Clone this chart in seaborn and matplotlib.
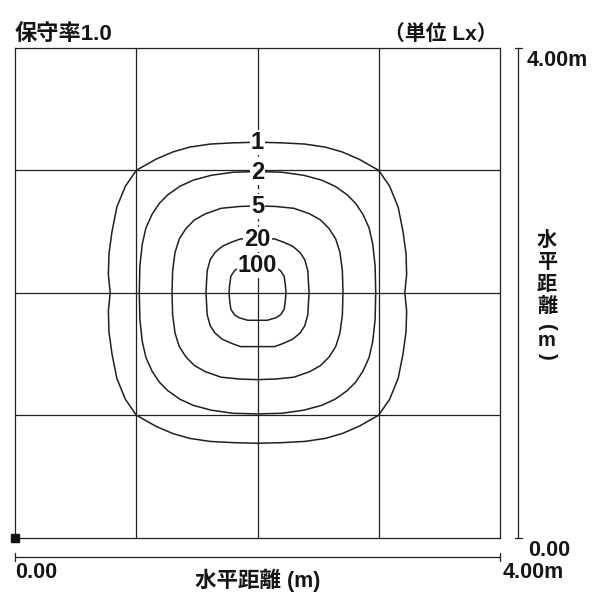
import numpy as np
import pandas as pd
import matplotlib
matplotlib.use('Agg')
import matplotlib.pyplot as plt
import seaborn as sns

# 照度レベル (Lx)
levels = [1, 2, 5, 20, 100]

# 等照度曲線 1/4 象限 (器具直下からの距離 m、上端 -> 側端)
lux1_x = [0, 0.20, 0.39, 0.56, 0.70, 0.84, 1.00, 1.09, 1.16, 1.20, 1.225, 1.23, 1.215]
lux1_y = [1.23, 1.225, 1.215, 1.19, 1.15, 1.09, 1.00, 0.87, 0.70, 0.50, 0.32, 0.15, 0]
lux2_x = [0, 0.20, 0.38, 0.53, 0.64, 0.74, 0.81, 0.87, 0.92, 0.95, 0.97, 0.975]
lux2_y = [0.99, 0.985, 0.96, 0.92, 0.87, 0.80, 0.73, 0.64, 0.53, 0.40, 0.22, 0]
lux5_x = [0, 0.15, 0.30, 0.43, 0.52, 0.59, 0.645, 0.68, 0.70, 0.705]
lux5_y = [0.71, 0.705, 0.69, 0.645, 0.595, 0.525, 0.44, 0.33, 0.18, 0]
lux20_x = [0, 0.14, 0.21, 0.29, 0.35, 0.39, 0.415, 0.425]
lux20_y = [0.44, 0.44, 0.415, 0.38, 0.33, 0.27, 0.18, 0]
lux100_x = [0, 0.08, 0.15, 0.19, 0.22, 0.23, 0.235]
lux100_y = [0.225, 0.225, 0.205, 0.18, 0.135, 0.06, 0]

# 器具位置と範囲
center_x, center_y = 2.0, 2.0
area = 4.0

line_color = '#231f20'
tc = '#151515'

# 4 象限に展開して閉曲線にする
quads = {1: (lux1_x, lux1_y), 2: (lux2_x, lux2_y), 5: (lux5_x, lux5_y),
         20: (lux20_x, lux20_y), 100: (lux100_x, lux100_y)}
rows = []
for lv in levels:
    qx, qy = np.array(quads[lv][0]), np.array(quads[lv][1])
    xs = np.concatenate([qx, qx[::-1][1:], -qx[1:], -qx[::-1][1:]])
    ys = np.concatenate([qy, -qy[::-1][1:], -qy[1:], qy[::-1][1:]])
    for i, (x, y) in enumerate(zip(xs, ys)):
        rows.append({'level': lv, 'order': i, 'x': center_x + x, 'y': center_y + y})
df = pd.DataFrame(rows)

sns.set_style('white')
plt.rcParams['font.family'] = ['Liberation Sans', 'Noto Sans CJK JP', 'DejaVu Sans']

fig = plt.figure(figsize=(6, 6), dpi=100)
ax = fig.add_axes([15 / 600, 1 - 537.5 / 600, 485 / 600, 489.5 / 600])

# グリッド
for g in [1, 2, 3]:
    ax.axhline(g, color=line_color, lw=0.9, zorder=1)
for g in [1, 3]:
    ax.axvline(g, color=line_color, lw=0.9, zorder=1)
# 中心線 (ラベル間は破線)
ax.plot([2, 2], [0, 2.12], color=line_color, lw=0.9, zorder=1)
ax.plot([2, 2], [3.27, 4], color=line_color, lw=0.9, zorder=1)
ax.plot([2, 2], [2.12, 3.27], color=line_color, lw=0.9, ls=(0, (3.5, 3)), zorder=1)

sns.lineplot(data=df, x='x', y='y', units='level', estimator=None, sort=False,
             color=line_color, lw=1.1, ax=ax, zorder=2)

# ラベル
for lv in levels:
    top = center_y + quads[lv][1][0]
    ax.text(center_x, top - 0.005, str(lv), ha='center', va='center', fontsize=17,
            fontweight='bold', color=tc, zorder=3,
            bbox=dict(boxstyle='square,pad=0.04', fc='white', ec='none'))

ax.set_xlim(0, area)
ax.set_ylim(0, area)
ax.set_xticks([])
ax.set_yticks([])
ax.set_xlabel('')
ax.set_ylabel('')
for s in ax.spines.values():
    s.set_color(line_color)
    s.set_linewidth(0.9)

# 器具位置マーカー
ax.plot([0], [0], marker='s', ms=6, color='#111111', clip_on=False, zorder=5)

# 寸法線
kw = dict(color=line_color, lw=0.9, clip_on=False)
ax.plot([4.15, 4.15], [0, 4], **kw)
ax.plot([4.12, 4.18], [4, 4], **kw)
ax.plot([4.12, 4.18], [0, 0], **kw)
ax.plot([0, 4], [-0.162, -0.162], **kw)
ax.plot([0, 0], [-0.195, -0.13], **kw)
ax.plot([4, 4], [-0.195, -0.13], **kw)

# テキスト
fs = 15.5
fig.text(15 / 600, 1 - 34 / 600, '保守率1.0', ha='left', va='center',
         fontsize=16, fontweight='bold', color=tc)
fig.text(498 / 600, 1 - 34 / 600, '（単位 Lx）', ha='right', va='center',
         fontsize=15, fontweight='bold', color=tc)
fig.text(527 / 600, 1 - 60 / 600, '4.00m', ha='left', va='center',
         fontsize=fs, fontweight='bold', color=tc)
fig.text(528 / 600, 1 - 550 / 600, '0.00', ha='left', va='center',
         fontsize=fs, fontweight='bold', color=tc)
fig.text(15 / 600, 1 - 573 / 600, '0.00', ha='left', va='center',
         fontsize=fs, fontweight='bold', color=tc)
fig.text(503 / 600, 1 - 573 / 600, '4.00m', ha='left', va='center',
         fontsize=fs, fontweight='bold', color=tc)
fig.text(258 / 600, 1 - 580 / 600, '水平距離 (m)', ha='center', va='center',
         fontsize=15.5, fontweight='bold', color=tc)

# 縦書きラベル
v_chars = ['水', '平', '距', '離', '(', 'm', ')']
v_pos = [240, 262, 284, 307, 327, 341, 356]
v_rot = [0, 0, 0, 0, -90, 0, -90]
for ch, py, rot in zip(v_chars, v_pos, v_rot):
    fig.text(547 / 600, 1 - py / 600, ch, ha='center', va='center', rotation=rot,
             fontsize=14.5, fontweight='bold', color=tc)

fig.savefig('out.png', dpi=100, facecolor='white')
